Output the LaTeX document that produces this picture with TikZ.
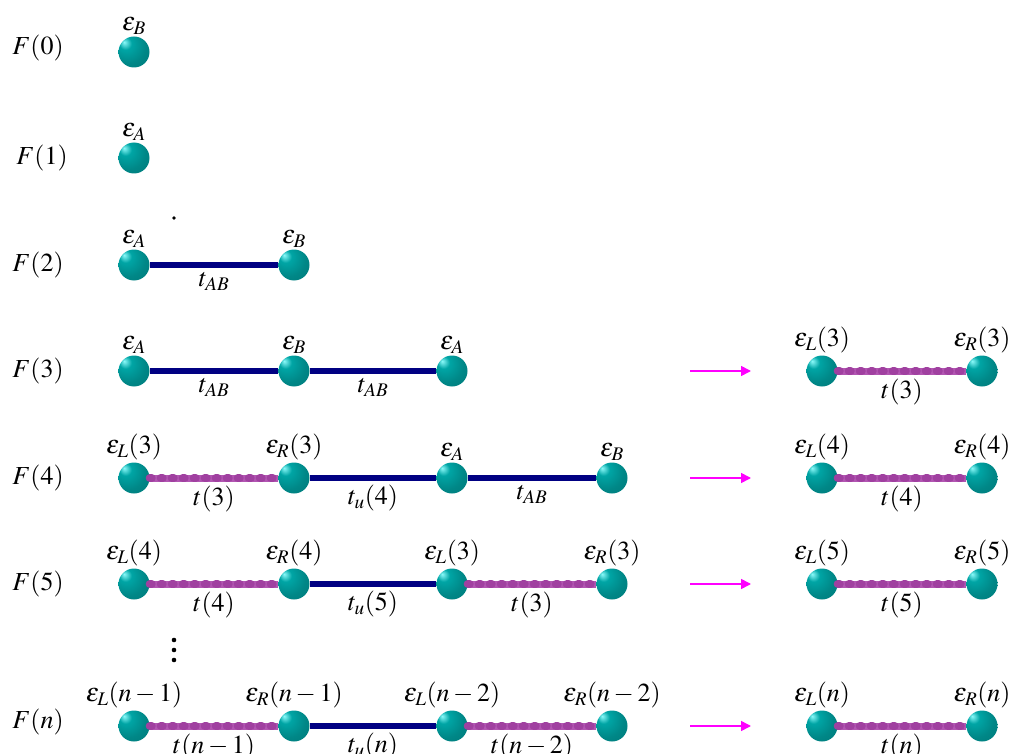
\documentclass[tikz,border=0pt]{standalone}
\usepackage{mathptmx}
\definecolor{mlteal}{RGB}{0,135,135}
\definecolor{mlhigh}{RGB}{140,250,250}
\definecolor{mlnavy}{RGB}{0,0,130}
\definecolor{mlorchid}{RGB}{178,86,178}
\definecolor{mlbead}{RGB}{160,64,160}
\definecolor{mlmagenta}{RGB}{255,0,255}
\usetikzlibrary{arrows.meta,positioning}
\pgfdeclareradialshading{sitegloss}{\pgfpoint{-16bp}{16bp}}{color(0bp)=(mlhigh); color(10bp)=(mlteal!75!cyan); color(28bp)=(mlteal); color(72bp)=(mlteal!75!black)}

\begin{document}
\begin{tikzpicture}[x=1pt, y=-1pt, every node/.style={font=\fontsize{26}{30}\selectfont, inner sep=1pt},
  site/.style={circle, minimum size=31pt, inner sep=0pt, shading=sitegloss},
  vlab/.style={above=1pt of #1},
  hop/.style={line width=6.5pt, mlnavy},
  eff/.style={line width=7pt, mlorchid, postaction={draw, mlbead, line width=8pt, line cap=round, dash pattern=on 2pt off 9pt}},
  elab/.style={below=3pt, text=black},
  go/.style={-{Triangle[length=10pt, width=10pt]}, line width=1.6pt, mlmagenta}]
\useasboundingbox (0,0) rectangle (1012,754);
% F(0)
\node (f0) at (38,48) {$F(0)$};
\node[site] (b0) at (134,52) {};
\node[vlab=b0] {$\varepsilon_B$};
% F(1)
\node (f1) at (42,158) {$F(1)$};
\node[site] (a1) at (134,158) {};
\node[vlab=a1] {$\varepsilon_A$};
% F(2)
\node (f2) at (38,265) {$F(2)$};
\node[site] (a2) at (134,265) {};
\node[site] (b2) at (294,265) {};
\node[vlab=a2] {$\varepsilon_A$};
\node[vlab=b2] {$\varepsilon_B$};
\draw[hop] (a2) -- node[elab] {$t_{AB}$} (b2);
\fill (174,218) circle (1.8);
% F(3)
\node (f3) at (38,371) {$F(3)$};
\node[site] (a3) at (134,371) {};
\node[site] (b3) at (294,371) {};
\node[site] (c3) at (452,371) {};
\node[vlab=a3] {$\varepsilon_A$};
\node[vlab=b3] {$\varepsilon_B$};
\node[vlab=c3] {$\varepsilon_A$};
\draw[hop] (a3) -- node[elab] {$t_{AB}$} (b3);
\draw[hop] (b3) -- node[elab] {$t_{AB}$} (c3);
\coordinate (s3) at (690,371);
\coordinate (e3) at (751,371);
\draw[go] (s3) -- (e3);
\node[site] (l3) at (822,371) {};
\node[site] (r3) at (982,371) {};
\node[vlab=l3] {$\varepsilon_L(3)$};
\node[vlab=r3] {$\varepsilon_R(3)$};
\draw[eff] (l3) -- node[elab] {$t(3)$} (r3);
% F(4)
\node (f4) at (38,478) {$F(4)$};
\node[site] (a4) at (134,478) {};
\node[site] (b4) at (294,478) {};
\node[site] (c4) at (452,478) {};
\node[site] (d4) at (612,478) {};
\node[vlab=a4] {$\varepsilon_L(3)$};
\node[vlab=b4] {$\varepsilon_R(3)$};
\node[vlab=c4] {$\varepsilon_A$};
\node[vlab=d4] {$\varepsilon_B$};
\draw[eff] (a4) -- node[elab] {$t(3)$} (b4);
\draw[hop] (b4) -- node[elab] {$t_u(4)$} (c4);
\draw[hop] (c4) -- node[elab] {$t_{AB}$} (d4);
\coordinate (s4) at (690,478);
\coordinate (e4) at (751,478);
\draw[go] (s4) -- (e4);
\node[site] (l4) at (822,478) {};
\node[site] (r4) at (982,478) {};
\node[vlab=l4] {$\varepsilon_L(4)$};
\node[vlab=r4] {$\varepsilon_R(4)$};
\draw[eff] (l4) -- node[elab] {$t(4)$} (r4);
% F(5)
\node (f5) at (38,584) {$F(5)$};
\node[site] (a5) at (134,584) {};
\node[site] (b5) at (294,584) {};
\node[site] (c5) at (452,584) {};
\node[site] (d5) at (612,584) {};
\node[vlab=a5] {$\varepsilon_L(4)$};
\node[vlab=b5] {$\varepsilon_R(4)$};
\node[vlab=c5] {$\varepsilon_L(3)$};
\node[vlab=d5] {$\varepsilon_R(3)$};
\draw[eff] (a5) -- node[elab] {$t(4)$} (b5);
\draw[hop] (b5) -- node[elab] {$t_u(5)$} (c5);
\draw[eff] (c5) -- node[elab] {$t(3)$} (d5);
\coordinate (s5) at (690,584);
\coordinate (e5) at (751,584);
\draw[go] (s5) -- (e5);
\node[site] (l5) at (822,584) {};
\node[site] (r5) at (982,584) {};
\node[vlab=l5] {$\varepsilon_L(5)$};
\node[vlab=r5] {$\varepsilon_R(5)$};
\draw[eff] (l5) -- node[elab] {$t(5)$} (r5);
% vertical dots
\foreach \k in {0,1,2}
  \fill (174,640+\k*10) circle (2.3);
% F(n)
\node (fn) at (38,722) {$F(n)$};
\node[site] (an) at (134,726) {};
\node[site] (bn) at (294,726) {};
\node[site] (cn) at (452,726) {};
\node[site] (dn) at (612,726) {};
\node[vlab=an] {$\varepsilon_L(n-1)$};
\node[vlab=bn] {$\varepsilon_R(n-1)$};
\node[vlab=cn] {$\varepsilon_L(n-2)$};
\node[vlab=dn] {$\varepsilon_R(n-2)$};
\draw[eff] (an) -- node[elab] {$t(n-1)$} (bn);
\draw[hop] (bn) -- node[elab] {$t_u(n)$} (cn);
\draw[eff] (cn) -- node[elab] {$t(n-2)$} (dn);
\coordinate (sn) at (690,726);
\coordinate (en) at (751,726);
\draw[go] (sn) -- (en);
\node[site] (ln) at (822,726) {};
\node[site] (rn) at (982,726) {};
\node[vlab=ln] {$\varepsilon_L(n)$};
\node[vlab=rn] {$\varepsilon_R(n)$};
\draw[eff] (ln) -- node[elab] {$t(n)$} (rn);
\end{tikzpicture}
\end{document}
